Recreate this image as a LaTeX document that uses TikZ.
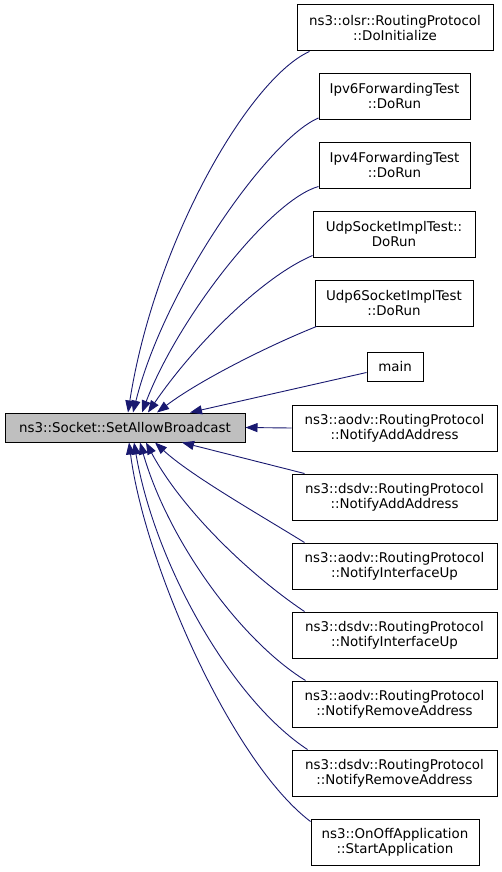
\documentclass[tikz,border=0pt]{standalone}
\usepackage{fontspec}
\setmainfont{DejaVu Sans}
\usetikzlibrary{arrows.meta}
\definecolor{edgecol}{HTML}{191970}
\definecolor{mainfill}{HTML}{BFBFBF}
\tikzset{
  box/.style={draw=black, fill=white, line width=1pt, inner sep=0pt, align=center,
    font=\fontsize{13.4}{15}\selectfont, minimum height=46pt},
  mainbox/.style={box, fill=mainfill, minimum height=29pt},
  edge/.style={draw=edgecol, line width=0.9pt, -{Triangle[length=12pt,width=9pt]}},
}
\begin{document}
\begin{tikzpicture}[x=1pt,y=-1pt]
\useasboundingbox (0,0) rectangle (501,872);
\node[mainbox, minimum width=240pt] (main) at (125,427.5) {ns3::Socket::SetAllowBroadcast};
\node[box, minimum width=196pt] (olsr) at (395,28) {ns3::olsr::RoutingProtocol\\::DoInitialize};
\node[box, minimum width=151pt] (ipvsix) at (394.5,96.5) {Ipv6ForwardingTest\\::DoRun};
\node[box, minimum width=151pt] (ipvfour) at (394.5,165) {Ipv4ForwardingTest\\::DoRun};
\node[box, minimum width=162pt] (udp) at (394,234) {UdpSocketImplTest::\\DoRun};
\node[box, minimum width=158pt] (udpsix) at (394,303) {Udp6SocketImplTest\\::DoRun};
\node[box, minimum width=56pt, minimum height=29pt] (mainf) at (395,366.5) {main};
\node[box, minimum width=205pt] (aodvadd) at (394.5,428) {ns3::aodv::RoutingProtocol\\::NotifyAddAddress};
\node[box, minimum width=205pt] (dsdvadd) at (394.5,497) {ns3::dsdv::RoutingProtocol\\::NotifyAddAddress};
\node[box, minimum width=205pt] (aodvup) at (394.5,566) {ns3::aodv::RoutingProtocol\\::NotifyInterfaceUp};
\node[box, minimum width=205pt] (dsdvup) at (394.5,635) {ns3::dsdv::RoutingProtocol\\::NotifyInterfaceUp};
\node[box, minimum width=205pt] (aodvrem) at (394.5,704) {ns3::aodv::RoutingProtocol\\::NotifyRemoveAddress};
\node[box, minimum width=205pt] (dsdvrem) at (394.5,773) {ns3::dsdv::RoutingProtocol\\::NotifyRemoveAddress};
\node[box, minimum width=168pt] (onoff) at (395,842) {ns3::OnOffApplication\\::StartApplication};
% top edges
\draw[edge] ([xshift=13pt]olsr.south west) .. controls (250,78) and (155,240) .. ([xshift=3pt]main.north);
\draw[edge] ([yshift=2pt]ipvsix.south west) .. controls (270,138) and (165,285) .. ([xshift=8pt]main.north);
\draw[edge] ([yshift=2pt]ipvfour.south west) .. controls (270,200) and (178,318) .. ([xshift=17pt]main.north);
\draw[edge] ([yshift=2pt]udp.south west) .. controls (260,278) and (192,348) .. ([xshift=23pt]main.north);
\draw[edge] ([xshift=2pt]udpsix.south west) .. controls (270,345) and (200,380) .. ([xshift=32pt]main.north);
\draw[edge] ([yshift=-6pt]mainf.west) -- ([xshift=65pt]main.north);
\draw[edge] (aodvadd.west) -- (main.east);
% bottom edges
\draw[edge] ([xshift=13pt]dsdvadd.north west) -- ([xshift=57pt]main.south);
\draw[edge] ([xshift=13pt]aodvup.north west) .. controls (260,515) and (190,475) .. ([xshift=30pt]main.south);
\draw[edge] ([xshift=13pt]dsdvup.north west) .. controls (250,575) and (182,510) .. ([xshift=21pt]main.south);
\draw[edge] ([xshift=14pt]aodvrem.north west) .. controls (240,640) and (168,540) .. ([xshift=15pt]main.south);
\draw[edge] ([xshift=16pt]dsdvrem.north west) .. controls (232,700) and (155,565) .. ([xshift=9pt]main.south);
\draw[edge] ([yshift=-3pt]onoff.north west) .. controls (232,762) and (145,565) .. ([xshift=4pt]main.south);
\end{tikzpicture}
\end{document}
